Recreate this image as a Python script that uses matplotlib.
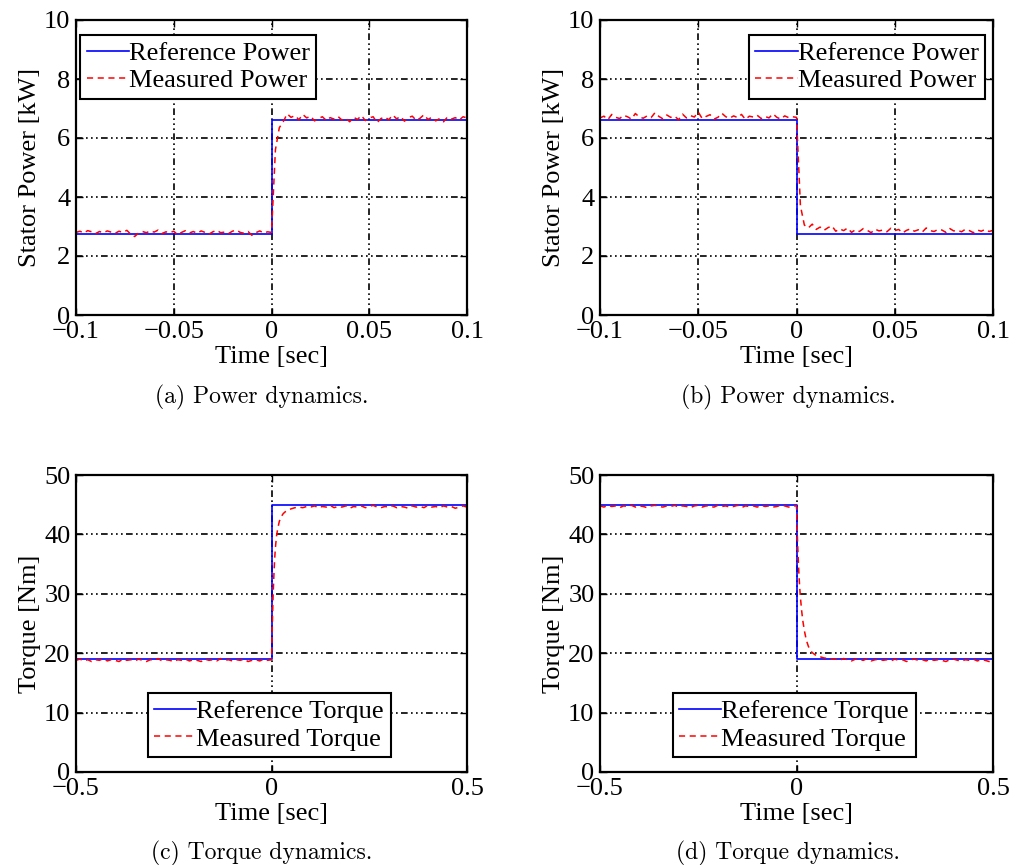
import numpy as np
import matplotlib
matplotlib.use('Agg')
import matplotlib.pyplot as plt

plt.rcParams['font.family'] = ['Liberation Serif', 'DejaVu Serif']
plt.rcParams['axes.unicode_minus'] = True

# ---- power step up (a) / step down (b), sampled every 2 ms ----
t_pow_pre = np.arange(-0.1, -0.001, 0.002)
t_pow_post = np.arange(0.0, 0.1001, 0.002)

ref_pow_t = [-0.1, 0.0, 0.0, 0.1]
ref_pow_a = [2.75, 2.75, 6.6, 6.6]
ref_pow_b = [6.6, 6.6, 2.75, 2.75]

meas_pow_a_pre = [2.80, 2.84, 2.78, 2.86, 2.82, 2.76, 2.83, 2.79, 2.85, 2.81,
                  2.77, 2.84, 2.80, 2.87, 2.74, 2.66, 2.78, 2.83, 2.79, 2.85,
                  2.81, 2.88, 2.76, 2.82, 2.79, 2.84, 2.72, 2.80, 2.86, 2.78,
                  2.83, 2.77, 2.85, 2.80, 2.74, 2.82, 2.87, 2.79, 2.81, 2.76,
                  2.84, 2.88, 2.80, 2.77, 2.83, 2.70, 2.79, 2.85, 2.78, 2.82]
meas_pow_a_post = [2.80, 5.60, 6.35, 6.55, 6.82, 6.70, 6.76, 6.62, 6.80, 6.68,
                   6.74, 6.58, 6.66, 6.72, 6.60, 6.69, 6.64, 6.73, 6.61, 6.67,
                   6.55, 6.70, 6.63, 6.76, 6.59, 6.68, 6.72, 6.52, 6.66, 6.71,
                   6.62, 6.78, 6.65, 6.73, 6.57, 6.69, 6.74, 6.60, 6.67, 6.79,
                   6.63, 6.70, 6.58, 6.66, 6.55, 6.71, 6.64, 6.69, 6.61, 6.72, 6.68]

meas_pow_b_pre = [6.68, 6.74, 6.62, 6.80, 6.70, 6.66, 6.77, 6.72, 6.64, 6.83,
                  6.71, 6.67, 6.75, 6.69, 6.86, 6.73, 6.65, 6.78, 6.70, 6.74,
                  6.62, 6.81, 6.68, 6.76, 6.71, 6.88, 6.66, 6.73, 6.79, 6.64,
                  6.70, 6.84, 6.72, 6.67, 6.75, 6.69, 6.80, 6.63, 6.74, 6.71,
                  6.77, 6.66, 6.73, 6.68, 6.82, 6.70, 6.64, 6.75, 6.69, 6.72]
meas_pow_b_post = [6.70, 3.70, 3.05, 2.95, 3.08, 2.90, 2.98, 2.87, 2.96, 3.02,
                   2.84, 2.92, 2.86, 2.95, 2.80, 2.89, 2.83, 2.93, 2.87, 2.79,
                   2.91, 2.85, 2.88, 2.82, 2.94, 2.86, 2.90, 2.78, 2.87, 2.92,
                   2.84, 2.89, 2.81, 2.95, 2.86, 2.83, 2.90, 2.88, 2.80, 2.93,
                   2.85, 2.87, 2.82, 2.91, 2.86, 2.79, 2.88, 2.84, 2.90, 2.83, 2.87]

# ---- torque step up (c) / step down (d) ----
t_trq_pre = np.arange(-0.5, -0.005, 0.01)
t_trq_tr = [0.0, 0.002, 0.004, 0.006, 0.008, 0.010, 0.013, 0.016, 0.020,
            0.025, 0.030, 0.035, 0.040, 0.050, 0.060, 0.070, 0.080, 0.090]
t_trq_post = np.arange(0.1, 0.5001, 0.01)

ref_trq_t = [-0.5, 0.0, 0.0, 0.5]
ref_trq_c = [19.0, 19.0, 45.0, 45.0]
ref_trq_d = [45.0, 45.0, 19.0, 19.0]

meas_trq_c_pre = [18.8, 19.0, 18.7, 18.9, 18.6, 18.9, 18.8, 19.1, 18.7, 18.9,
                  18.8, 18.6, 19.0, 18.8, 18.9, 18.7, 19.0, 18.8, 18.6, 18.9,
                  18.8, 19.1, 18.7, 18.9, 18.8, 18.6, 18.9, 18.8, 19.0, 18.7,
                  18.9, 18.8, 18.6, 19.0, 18.8, 18.9, 18.7, 19.1, 18.8, 18.9,
                  18.7, 18.9, 18.8, 19.0, 18.6, 18.8, 18.9, 18.7, 19.0, 18.8]
meas_trq_c_tr = [18.9, 24.5, 29.5, 33.0, 35.8, 37.8, 39.8, 41.0, 42.2,
                 43.0, 43.5, 43.8, 44.0, 44.3, 44.5, 44.6, 44.5, 44.7]
meas_trq_c_post = [44.6, 44.8, 44.5, 44.7, 44.6, 44.9, 44.5, 44.7, 44.6, 44.8,
                   44.4, 44.7, 44.6, 44.8, 44.5, 44.7, 44.9, 44.6, 44.5, 44.7,
                   44.6, 44.8, 44.5, 44.7, 44.6, 44.4, 44.8, 44.6, 44.7, 44.5,
                   44.9, 44.6, 44.7, 44.5, 44.8, 44.6, 44.7, 44.4, 44.6, 44.8, 44.6]

meas_trq_d_pre = [44.8, 44.6, 44.9, 44.7, 44.8, 44.5, 44.8, 44.7, 44.9, 44.6,
                  44.8, 44.7, 44.5, 44.8, 44.9, 44.7, 44.6, 44.8, 44.7, 44.9,
                  44.6, 44.8, 44.7, 44.5, 44.8, 44.9, 44.6, 44.8, 44.7, 44.6,
                  44.9, 44.7, 44.8, 44.6, 44.7, 44.9, 44.5, 44.8, 44.7, 44.8,
                  44.6, 44.9, 44.7, 44.8, 44.6, 44.7, 44.9, 44.8, 44.6, 44.8]
meas_trq_d_tr = [44.8, 40.0, 36.5, 33.5, 31.2, 29.4, 27.2, 25.5, 23.8,
                 22.2, 21.2, 20.5, 20.1, 19.6, 19.4, 19.2, 19.1, 19.0]
meas_trq_d_post = [19.0, 18.8, 19.1, 18.9, 18.7, 19.0, 18.9, 18.8, 19.1, 18.7,
                   18.9, 19.0, 18.8, 18.9, 18.7, 19.0, 18.8, 18.9, 18.6, 18.9,
                   19.0, 18.8, 18.9, 18.7, 19.0, 18.8, 18.9, 18.8, 18.6, 18.9,
                   19.0, 18.8, 18.7, 18.9, 18.8, 19.0, 18.7, 18.9, 18.8, 18.6, 18.8]

pow_xticks = [-0.1, -0.05, 0.0, 0.05, 0.1]
pow_xlabels = ['\u22120.1', '\u22120.05', '0', '0.05', '0.1']
pow_yticks = [0, 2, 4, 6, 8, 10]
trq_xticks = [-0.5, 0.0, 0.5]
trq_xlabels = ['\u22120.5', '0', '0.5']
trq_yticks = [0, 10, 20, 30, 40, 50]

captions = ['(a) Power dynamics.', '(b) Power dynamics.',
            '(c) Torque dynamics.', '(d) Torque dynamics.']

W, H = 1016, 865
fig = plt.figure(figsize=(W / 100, H / 100), dpi=100)

grid_dash = (0, (4, 2, 1, 2, 1, 2, 1, 2))
FS = 19


def make_axes(rect, t_meas, y_meas, t_ref, y_ref, xticks, xlabels, yticks,
              ylabel, labels, leg_loc, leg_anchor):
    ax = fig.add_axes(rect)
    ax.plot(t_ref, y_ref, color='#0000ff', lw=1.2, label=labels[0])
    ax.plot(t_meas, y_meas, color='#ff0000', lw=1.1, dashes=(4, 3),
            label=labels[1])
    ax.set_xlim(xticks[0], xticks[-1])
    ax.set_ylim(yticks[0], yticks[-1])
    ax.set_xticks(xticks)
    ax.set_xticklabels(xlabels)
    ax.set_yticks(yticks)
    ax.tick_params(direction='in', top=True, right=True, length=5, width=1,
                   labelsize=FS, pad=4)
    ax.grid(True, color='black', lw=1.2, linestyle=grid_dash)
    for s in ax.spines.values():
        s.set_linewidth(1.6)
    ax.set_xlabel('Time [sec]', fontsize=FS, labelpad=2.5)
    ax.set_ylabel(ylabel, fontsize=FS, labelpad=2)
    leg = ax.legend(loc=leg_loc, bbox_to_anchor=leg_anchor, fontsize=FS,
                    fancybox=False, framealpha=1, edgecolor='black',
                    handlelength=1.6, handletextpad=0.0, labelspacing=0.15,
                    borderpad=0.25, borderaxespad=0)
    leg.get_frame().set_linewidth(1.5)
    return ax


top_rect_h = 295 / H
bot_rect_h = 297 / H
aw_l = 391 / W
aw_r = 393 / W

make_axes([76 / W, 1 - 315 / H, aw_l, top_rect_h],
          np.concatenate([t_pow_pre, t_pow_post]),
          meas_pow_a_pre + meas_pow_a_post, ref_pow_t, ref_pow_a,
          pow_xticks, pow_xlabels, pow_yticks, 'Stator Power [kW]',
          ['Reference Power', 'Measured Power'], 'upper left', (0.01, 0.95))
make_axes([600 / W, 1 - 315 / H, aw_r, top_rect_h],
          np.concatenate([t_pow_pre, t_pow_post]),
          meas_pow_b_pre + meas_pow_b_post, ref_pow_t, ref_pow_b,
          pow_xticks, pow_xlabels, pow_yticks, 'Stator Power [kW]',
          ['Reference Power', 'Measured Power'], 'upper right', (0.98, 0.95))
make_axes([76 / W, 1 - 772 / H, aw_l, bot_rect_h],
          np.concatenate([t_trq_pre, t_trq_tr, t_trq_post]),
          meas_trq_c_pre + meas_trq_c_tr + meas_trq_c_post,
          ref_trq_t, ref_trq_c, trq_xticks, trq_xlabels, trq_yticks,
          'Torque [Nm]', ['Reference Torque', 'Measured Torque'],
          'lower center', (0.494, 0.05))
make_axes([600 / W, 1 - 772 / H, aw_r, bot_rect_h],
          np.concatenate([t_trq_pre, t_trq_tr, t_trq_post]),
          meas_trq_d_pre + meas_trq_d_tr + meas_trq_d_post,
          ref_trq_t, ref_trq_d, trq_xticks, trq_xlabels, trq_yticks,
          'Torque [Nm]', ['Reference Torque', 'Measured Torque'],
          'lower center', (0.494, 0.05))

cap_pos = [(262, 397), (788, 397), (262, 853), (788, 853)]
for (cx, cy), txt in zip(cap_pos, captions):
    fig.text(cx / W, 1 - cy / H, txt, ha='center', va='center',
             family='cmr10', fontsize=17)

fig.savefig('out.png', dpi=100)
